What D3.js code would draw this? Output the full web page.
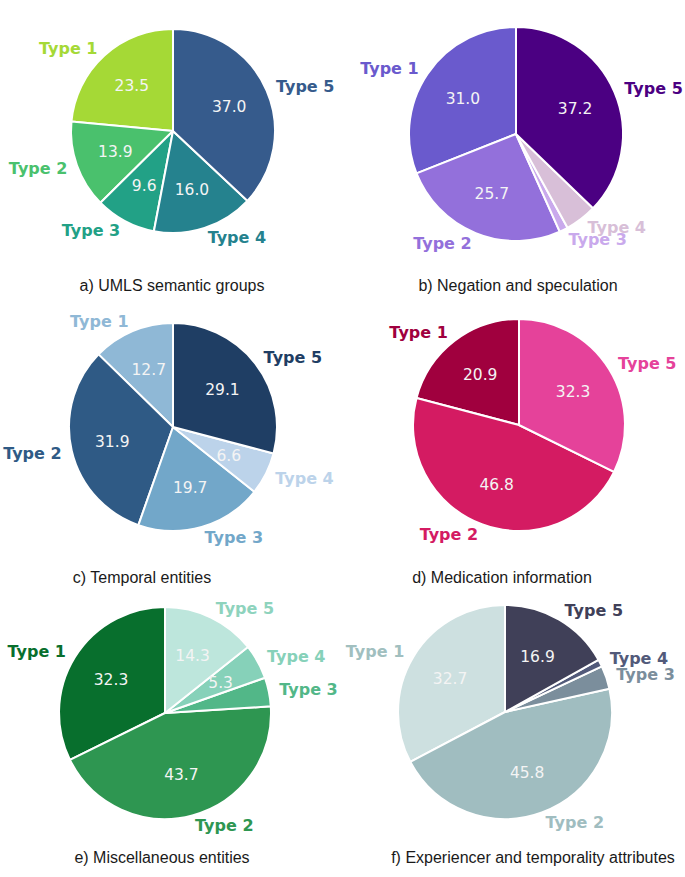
<!DOCTYPE html>
<html>
<head>
<meta charset="utf-8">
<script src="https://cdn.jsdelivr.net/npm/d3@7"></script>
<style>
  body { margin: 0; background: #fff; }
  .type-label { font-family: "DejaVu Sans", sans-serif; font-weight: bold; font-size: 16px; }
  .pct-label { font-family: "DejaVu Sans", sans-serif; font-size: 15.5px; fill: #f4f4f4; }
  .caption { font-family: "Liberation Sans", Arial, sans-serif; font-size: 16px; fill: #1a1a1a; }
</style>
</head>
<body>
<svg id="pies" width="685" height="877"></svg>
<script>
// categories
var types = ["Type 1", "Type 2", "Type 3", "Type 4", "Type 5"];

// share of each type (%) per panel
var umlsValues = [23.5, 13.9, 9.6, 16.0, 37.0];
var negationValues = [31.0, 25.7, 1.3, 4.8, 37.2];
var temporalValues = [12.7, 31.9, 19.7, 6.6, 29.1];
var medicationValues = [20.9, 46.8, 0, 0, 32.3];
var miscValues = [32.3, 43.7, 4.4, 5.3, 14.3];
var experiencerValues = [32.7, 45.8, 3.5, 1.1, 16.9];

var captions = [
    "a) UMLS semantic groups",
    "b) Negation and speculation",
    "c) Temporal entities",
    "d) Medication information",
    "e) Miscellaneous entities",
    "f) Experiencer and temporality attributes"
];

// colours per panel
var umlsColors = ["#a5d936", "#4ac16d", "#22a186", "#25828e", "#365b8c"];
var negationColors = ["#6a5acd", "#9370db", "#c9a9ec", "#d8bfd8", "#4b0082"];
var temporalColors = ["#8fb8d6", "#2f5a85", "#72a7c9", "#bcd3ea", "#1f3e64"];
var medicationColors = ["#a0003e", "#d41b62", "#e8659f", "#ee88b8", "#e5429a"];
var miscColors = ["#086f2d", "#2e9651", "#52b788", "#86d1b9", "#bde6dc"];
var experiencerColors = ["#cde0e0", "#a0bdc0", "#7b8e9c", "#525a7a", "#404058"];

// label colours where they differ from the slice
var miscLabelColors = ["#086f2d", "#2e9651", "#52b788", "#86d1b9", "#8ed3bd"];
var experiencerLabelColors = ["#a1bfbf", "#a0bdc0", "#7b8e9c", "#525a7a", "#404058"];

var svg = d3.select("svg#pies");

var panels = [
    { values: umlsValues, colors: umlsColors, cx: 173, cy: 131, r: 102, capX: 172, capY: 285 },
    { values: negationValues, colors: negationColors, cx: 516, cy: 134, r: 107, capX: 518, capY: 285 },
    { values: temporalValues, colors: temporalColors, cx: 173, cy: 427, r: 104, capX: 142, capY: 577 },
    { values: medicationValues, colors: medicationColors, cx: 519, cy: 425, r: 106, capX: 502, capY: 577 },
    { values: miscValues, colors: miscColors, labelColors: miscLabelColors, cx: 165, cy: 713, r: 106, capX: 162, capY: 857 },
    { values: experiencerValues, colors: experiencerColors, labelColors: experiencerLabelColors, cx: 505, cy: 712, r: 107, capX: 533, capY: 857 }
];

// start at 12 o'clock and go counter-clockwise
var pie = d3.pie()
    .sort(null)
    .value(function(d) { return d.value; })
    .startAngle(0)
    .endAngle(-2 * Math.PI);

panels.forEach(function(p, i) {
    var labelColors = p.labelColors || p.colors;
    var data = types.map(function(t, k) {
        return { type: t, value: p.values[k], color: p.colors[k], labelColor: labelColors[k] };
    }).filter(function(d) { return d.value > 0; });

    var arcs = pie(data);

    var slice = d3.arc().innerRadius(0).outerRadius(p.r);
    var pctArc = d3.arc().innerRadius(p.r * 0.6).outerRadius(p.r * 0.6);
    var labelArc = d3.arc().innerRadius(p.r * 1.1).outerRadius(p.r * 1.1);

    var g = svg.append("g")
        .attr("transform", "translate(" + p.cx + "," + p.cy + ")");

    g.selectAll("path")
        .data(arcs)
        .enter().append("path")
            .attr("d", slice)
            .attr("fill", function(d) { return d.data.color; })
            .attr("stroke", "#fff")
            .attr("stroke-width", 2)
            .attr("stroke-linejoin", "round");

    g.selectAll(".pct-label")
        .data(arcs.filter(function(d) { return d.data.value >= 5; }))
        .enter().append("text")
            .attr("class", "pct-label")
            .attr("transform", function(d) { return "translate(" + pctArc.centroid(d) + ")"; })
            .attr("text-anchor", "middle")
            .attr("dy", "0.36em")
            .text(function(d) { return d.data.value.toFixed(1); });

    g.selectAll(".type-label")
        .data(arcs)
        .enter().append("text")
            .attr("class", "type-label")
            .attr("transform", function(d) { return "translate(" + labelArc.centroid(d) + ")"; })
            .attr("text-anchor", function(d) { return labelArc.centroid(d)[0] >= 0 ? "start" : "end"; })
            .attr("dy", "0.36em")
            .attr("fill", function(d) { return d.data.labelColor; })
            .text(function(d) { return d.data.type; });

    svg.append("text")
        .attr("class", "caption")
        .attr("x", p.capX)
        .attr("y", p.capY)
        .attr("dy", "0.35em")
        .attr("text-anchor", "middle")
        .text(captions[i]);
});
</script>
</body>
</html>
